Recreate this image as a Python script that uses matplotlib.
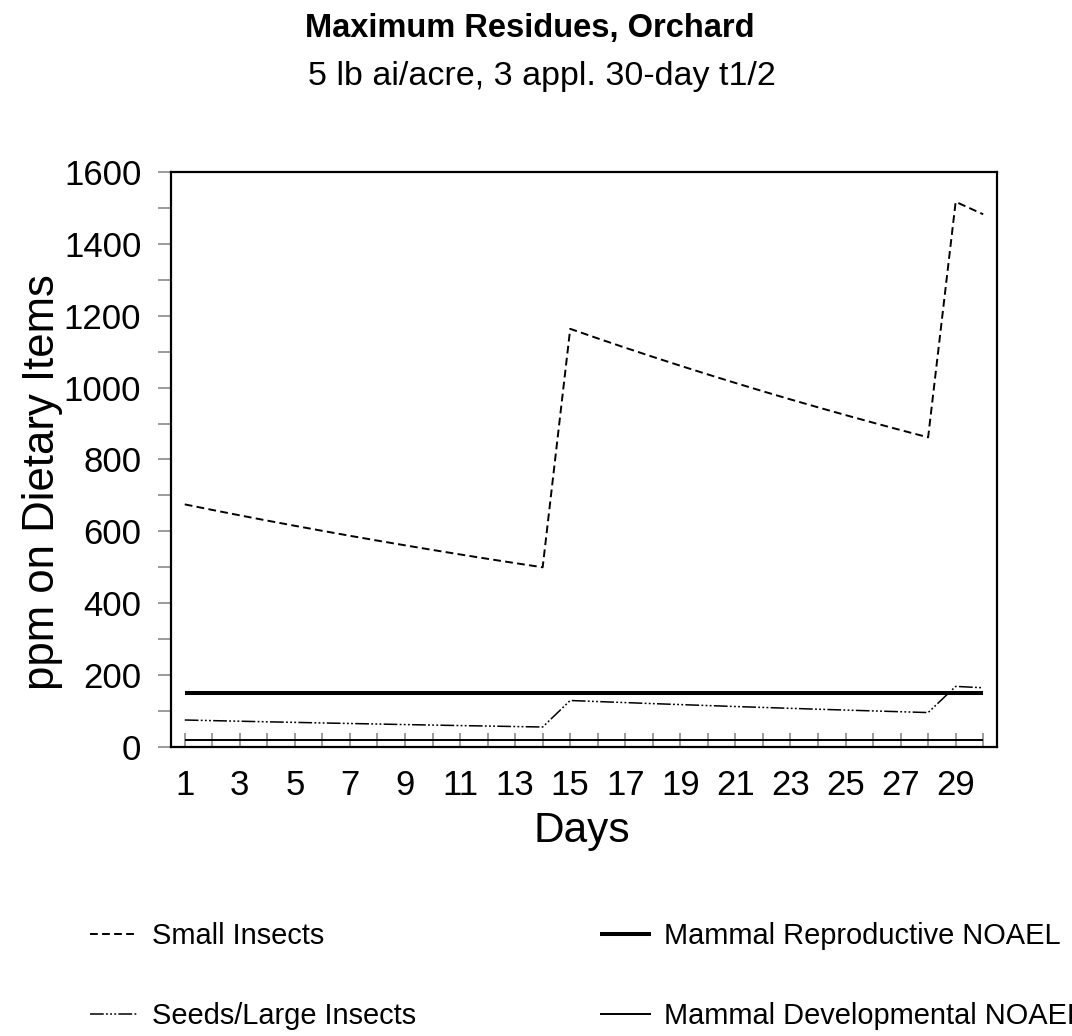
import matplotlib
matplotlib.use("Agg")
import matplotlib.pyplot as plt
from matplotlib.ticker import MultipleLocator

plt.rcParams["font.family"] = ["Liberation Sans", "DejaVu Sans"]

days = list(range(1, 31))

# residues (ppm) on each dietary item, three applications 14 days apart
small_insects = [675.0, 659.6, 644.5, 629.8, 615.4, 601.4, 587.6, 574.2, 561.1, 548.3,
                 535.7, 523.5, 511.6, 499.9, 1163.5, 1136.9, 1110.9, 1085.6, 1060.8, 1036.6,
                 1012.9, 989.7, 967.1, 945.1, 923.5, 902.4, 881.8, 861.6, 1516.9, 1482.3]
seeds_large_insects = [75.0, 73.3, 71.6, 70.0, 68.4, 66.8, 65.3, 63.8, 62.3, 60.9,
                       59.5, 58.2, 56.8, 55.5, 129.3, 126.3, 123.5, 120.6, 117.9, 115.2,
                       112.5, 110.0, 107.5, 105.0, 102.6, 100.3, 98.0, 95.7, 168.5, 164.7]
repro_noael = [150] * 30
devel_noael = [20] * 30

fig = plt.figure(figsize=(10.72, 10.36), dpi=100)
ax = fig.add_axes([0.1595, 0.279, 0.7705, 0.555])

l1, = ax.plot(days, small_insects, color="black", lw=1.4, dashes=(4, 2.2),
              label="Small Insects")
l2, = ax.plot(days, seeds_large_insects, color="black", lw=1.1,
              dashes=(9, 1.5, 1.2, 1.5, 1.2, 1.5, 1.2, 1.5),
              label="Seeds/Large Insects")
l3, = ax.plot(days, repro_noael, color="black", lw=2.9, solid_capstyle="butt",
              label="Mammal Reproductive NOAEL")
l4, = ax.plot(days, devel_noael, color="black", lw=1.4, solid_capstyle="butt",
              label="Mammal Developmental NOAEL")

ax.set_xlim(0.5, 30.5)
ax.set_ylim(0, 1600)

ax.set_xticks(days)
ax.set_xticklabels([str(d) if d % 2 == 1 else "" for d in days])
ax.yaxis.set_major_locator(MultipleLocator(200))
ax.yaxis.set_minor_locator(MultipleLocator(100))

ax.tick_params(axis="x", direction="in", length=10, width=1.1, color="#808080",
               labelsize=25, pad=16)
ax.tick_params(axis="y", which="both", direction="out", length=9.4, width=1.1,
               color="#808080", labelsize=25, pad=12)

for sp in ax.spines.values():
    sp.set_linewidth(1.6)
    sp.set_color("black")

ax.set_xlabel("Days", fontsize=30.5)
ax.set_ylabel("ppm on Dietary Items", fontsize=31.5)
ax.xaxis.set_label_coords(0.497, -0.111)
ax.yaxis.set_label_coords(-0.131, 0.46)

fig.text(0.494, 1 - 37 / 1036, "Maximum Residues, Orchard", ha="center",
         va="baseline", fontsize=23.5, fontweight="bold")
fig.text(0.506, 1 - 85 / 1036, "5 lb ai/acre, 3 appl. 30-day t1/2", ha="center",
         va="baseline", fontsize=24.5)

# legend below the plot, two columns
leg_kw = dict(frameon=False, fontsize=20.9, labelspacing=1.8, borderpad=0,
              borderaxespad=0)
fig.legend(handles=[l1, l2], loc="upper left", handlelength=1.62, handletextpad=0.52,
           bbox_to_anchor=(90 / 1072, 1 - 922 / 1036), **leg_kw)
fig.legend(handles=[l3, l4], loc="upper left", handlelength=1.77, handletextpad=0.44,
           bbox_to_anchor=(600 / 1072, 1 - 922 / 1036), **leg_kw)

fig.savefig("out.png", dpi=100)
